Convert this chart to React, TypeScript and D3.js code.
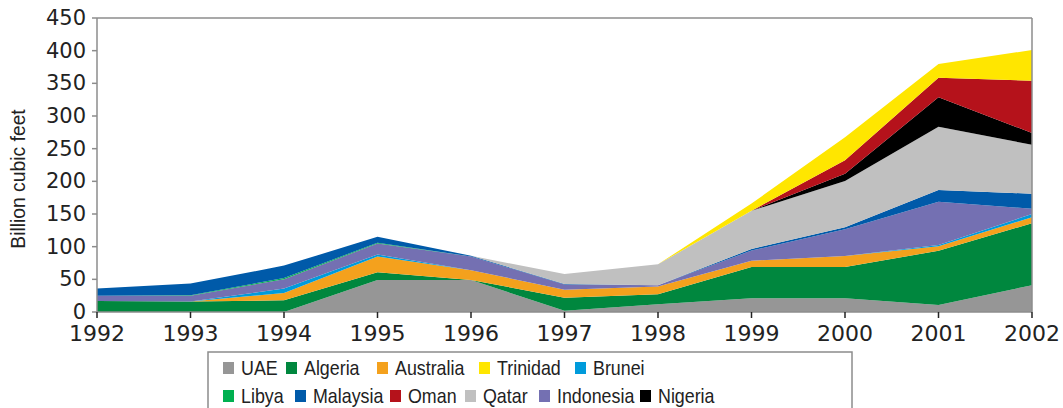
import React from "react";
import * as d3 from "d3";

const years = [1992, 1993, 1994, 1995, 1996, 1997, 1998, 1999, 2000, 2001, 2002];
const UAE =       [0, 0, 0, 49, 49, 2, 12, 21, 21, 10.7, 41];
const Algeria =   [17, 16, 18, 12, 0, 20, 15, 48, 48, 83, 95];
const Australia = [0, 0, 11, 24, 15, 12, 12, 9.5, 16.7, 7, 9];
const Brunei =    [0, 0, 7, 3, 0, 0, 0, 0, 0, 2, 5];
const Indonesia = [8, 9, 14, 17, 21, 8, 2, 15.5, 41, 66, 8];
const Libya =     [0, 0.5, 2, 1, 0, 0, 0, 0, 0, 0, 0];
const Malaysia =  [11, 18, 19, 9, 1, 1, 0, 2.4, 3, 18, 23];
const Qatar =     [0, 0, 0, 0, 0, 15, 32, 58.6, 71, 97, 75];
const Nigeria =   [0, 0, 0, 0, 0, 0, 0, 0, 11, 45, 18];
const Oman =      [0, 0, 0, 0, 0, 0, 0, 0, 20.6, 30, 80];
const Trinidad =  [0, 0, 0, 0, 0, 0, 0, 11, 35, 21, 47];

const yTicks = [0, 50, 100, 150, 200, 250, 300, 350, 400, 450];

const stackOrder = ["UAE", "Algeria", "Australia", "Brunei", "Indonesia", "Libya", "Malaysia", "Qatar", "Nigeria", "Oman", "Trinidad"];
const legendRow1 = ["UAE", "Algeria", "Australia", "Trinidad", "Brunei"];
const legendRow2 = ["Libya", "Malaysia", "Oman", "Qatar", "Indonesia", "Nigeria"];

const seriesValues: Record<string, number[]> = {
  UAE, Algeria, Australia, Brunei, Indonesia, Libya, Malaysia, Qatar, Nigeria, Oman, Trinidad,
};

const colors: Record<string, string> = {
  UAE: "#969696",
  Algeria: "#00873e",
  Australia: "#f4a11d",
  Trinidad: "#ffe600",
  Brunei: "#009bdb",
  Libya: "#00b050",
  Malaysia: "#005aa9",
  Oman: "#b5121b",
  Qatar: "#c0c0c0",
  Indonesia: "#7470b2",
  Nigeria: "#000000",
};

const rows = years.map((y, i) => {
  const r: Record<string, number> = { year: y };
  stackOrder.forEach((k) => (r[k] = seriesValues[k][i]));
  return r;
});

export default function App() {
  const W = 1063, H = 408;
  const x0 = 97, x1 = 1032, yBot = 312, yTop = 18;
  const x = d3.scaleLinear().domain([1992, 2002]).range([x0, x1]);
  const y = d3.scaleLinear().domain([0, 450]).range([yBot, yTop]);
  const stack = d3.stack<Record<string, number>>().keys(stackOrder);
  const layers = stack(rows);
  const area = d3
    .area<any>()
    .x((d) => x(d.data.year))
    .y0((d) => y(d[0]))
    .y1((d) => y(d[1]))
    .curve(d3.curveLinear);

  const tickFont = "'DejaVu Sans', sans-serif";
  const narrow = "'Liberation Sans', Arial, sans-serif";
  const axisColor = "#8c8c8c";
  const sx = 0.85;

  const legendText1 = [241, 304, 395, 497, 593];
  const legendText2 = [241, 313, 408, 483, 557, 658];

  return (
    <svg width={W} height={H} style={{ position: "absolute", left: 0, top: 0 }}>
      <rect x={0} y={0} width={W} height={H} fill="#fff" />
      {layers.map((l) => (
        <path key={l.key} d={area(l as any) || ""} fill={colors[l.key]} />
      ))}
      {/* frame */}
      <line x1={x0} x2={x1} y1={yTop} y2={yTop} stroke={axisColor} strokeWidth={1.5} />
      <line x1={x1} x2={x1} y1={yTop} y2={yBot} stroke={axisColor} strokeWidth={1.5} />
      <line x1={x0} x2={x0} y1={yTop} y2={yBot} stroke={axisColor} strokeWidth={1.5} />
      <line x1={x0} x2={x1} y1={yBot} y2={yBot} stroke={axisColor} strokeWidth={1.5} />
      {yTicks.map((t) => (
        <g key={t}>
          <line x1={x0 - 5} x2={x0} y1={y(t)} y2={y(t)} stroke={axisColor} strokeWidth={1.5} />
          <text x={86} y={y(t) + 7} textAnchor="end" fontFamily={tickFont} fontSize={21} fill="#222">
            {t}
          </text>
        </g>
      ))}
      {years.map((yr) => (
        <g key={yr}>
          <line x1={x(yr)} x2={x(yr)} y1={yBot} y2={yBot + 6} stroke="#222" strokeWidth={1.5} />
          <text x={x(yr)} y={341} textAnchor="middle" fontFamily={tickFont} fontSize={22} fill="#222">
            {yr}
          </text>
        </g>
      ))}
      <text
        transform={`translate(25, 179) rotate(-90) scale(0.92,1)`}
        textAnchor="middle"
        fontFamily={narrow}
        fontSize={21}
        fill="#222"
      >
        Billion cubic feet
      </text>
      {/* legend */}
      <rect x={208} y={352} width={644} height={70} fill="#fff" stroke={axisColor} strokeWidth={1.5} />
      {legendRow1.map((k, i) => (
        <g key={k}>
          <rect x={legendText1[i] - 18} y={362} width={11} height={12} fill={colors[k]} />
          <text transform={`translate(${legendText1[i]}, 375) scale(${sx},1)`} fontFamily={narrow} fontSize={21} fill="#222">
            {k}
          </text>
        </g>
      ))}
      {legendRow2.map((k, i) => (
        <g key={k}>
          <rect x={legendText2[i] - 18} y={390} width={11} height={12} fill={colors[k]} />
          <text transform={`translate(${legendText2[i]}, 403) scale(${sx},1)`} fontFamily={narrow} fontSize={21} fill="#222">
            {k}
          </text>
        </g>
      ))}
    </svg>
  );
}
